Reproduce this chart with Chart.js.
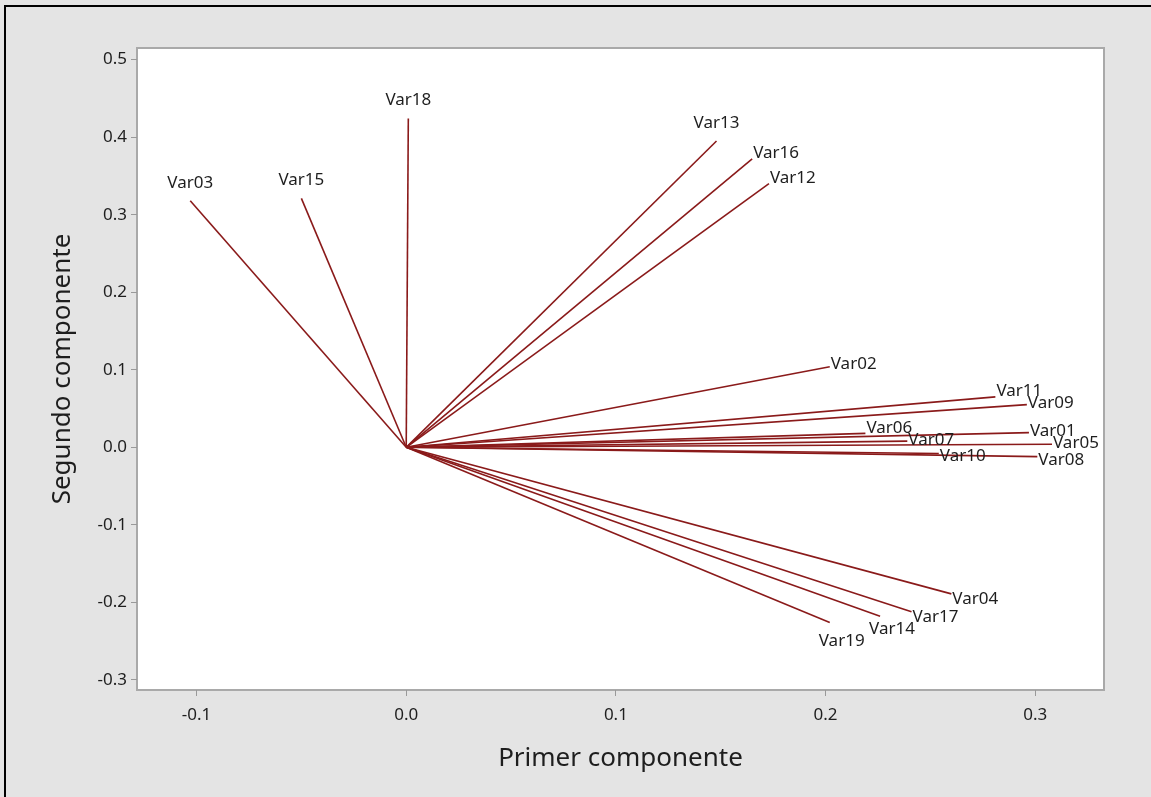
<!DOCTYPE html>
<html>
<head>
<meta charset="utf-8">
<script src="https://cdn.jsdelivr.net/npm/chart.js@4"></script>
<style>
  html, body { margin: 0; padding: 0; background: #e4e4e4; }
  canvas { display: block; }
</style>
</head>
<body>
<canvas id="biplot" width="1151" height="797"></canvas>
<script>
// Loadings
const varNames = ['Var01', 'Var02', 'Var03', 'Var04', 'Var05', 'Var06', 'Var07', 'Var08', 'Var09', 'Var10',
                  'Var11', 'Var12', 'Var13', 'Var14', 'Var15', 'Var16', 'Var17', 'Var18', 'Var19'];
const pc1 = [0.297, 0.202, -0.103, 0.260, 0.308, 0.219, 0.239, 0.301, 0.296, 0.254,
             0.281, 0.173, 0.148, 0.226, -0.050, 0.165, 0.241, 0.001, 0.202];
const pc2 = [0.019, 0.104, 0.318, -0.189, 0.004, 0.018, 0.008, -0.012, 0.055, -0.008,
             0.065, 0.340, 0.395, -0.218, 0.321, 0.372, -0.212, 0.424, -0.226];
const xTicks = [-0.1, 0.0, 0.1, 0.2, 0.3];
const yTicks = [-0.3, -0.2, -0.1, 0.0, 0.1, 0.2, 0.3, 0.4, 0.5];

const lineColor = '#8a1a1a';
const textColor = '#1e1e1e';
Chart.defaults.font.family = '"Noto Sans", "Open Sans", sans-serif';

// Grey page, black edge, white plot box
const frame = {
  id: 'frame',
  beforeDraw(chart) {
    const { ctx, chartArea: a, width, height } = chart;
    ctx.save();
    ctx.fillStyle = '#e4e4e4';
    ctx.fillRect(0, 0, width, height);
    ctx.fillStyle = '#000';
    ctx.fillRect(4, 5, width - 4, 2);
    ctx.fillRect(4, 5, 2, height - 5);
    ctx.fillStyle = '#fff';
    ctx.fillRect(a.left, a.top, a.right - a.left, a.bottom - a.top);
    ctx.strokeStyle = '#a9a9a9';
    ctx.lineWidth = 2;
    ctx.strokeRect(a.left, a.top, a.right - a.left, a.bottom - a.top);
    ctx.restore();
  }
};

// Names at the tips of the vectors, nudged apart when they collide
const vectorLabels = {
  id: 'vectorLabels',
  afterDatasetsDraw(chart) {
    const { ctx, scales: { x, y } } = chart;
    const ox = x.getPixelForValue(0), oy = y.getPixelForValue(0);
    ctx.save();
    ctx.font = '17px "Noto Sans", "Open Sans", sans-serif';
    ctx.fillStyle = textColor;
    ctx.textBaseline = 'middle';
    ctx.textAlign = 'left';
    const items = varNames.map((name, i) => {
      const ex = x.getPixelForValue(pc1[i]), ey = y.getPixelForValue(pc2[i]);
      const dx = ex - ox, dy = ey - oy, len = Math.hypot(dx, dy);
      const uy = dy / len;
      const w = ctx.measureText(name).width;
      const steep = dx < 0 || Math.atan2(-dy, dx) > 43 * Math.PI / 180;
      let left, cy;
      if (steep) {
        left = ex - w / 2;
        cy = ey - 18;
      } else {
        left = ex + 1;
        cy = uy < 0 ? ey + 8 * uy - 1 : ey + 8 * uy + 3;
      }
      return { name, left, cy, w, len, up: uy < 0 };
    });
    const h = 12;
    const placed = [];
    items.slice().sort((a, b) => b.len - a.len).forEach(it => {
      let moved = true, guard = 0;
      while (moved && guard++ < 20) {
        moved = false;
        for (const p of placed) {
          const xo = Math.min(it.left + it.w, p.left + p.w) - Math.max(it.left, p.left);
          if (xo > -2 && Math.abs(it.cy - p.cy) < h) {
            if (it.up) {
              it.cy = p.cy - h;
            } else {
              it.cy = p.cy + h;
              it.left -= 12;
            }
            moved = true;
          }
        }
      }
      placed.push(it);
      ctx.fillText(it.name, it.left, it.cy);
    });
    ctx.restore();
  }
};

const datasets = varNames.map((name, i) => ({
  label: name,
  data: [{ x: 0, y: 0 }, { x: pc1[i], y: pc2[i] }],
  showLine: true,
  fill: false,
  borderColor: lineColor,
  borderWidth: 1.6,
  pointRadius: 0,
  pointHoverRadius: 0
}));

const ctx = document.getElementById('biplot').getContext('2d');
const biplot = new Chart(ctx, {
  type: 'scatter',
  data: { datasets: datasets },
  options: {
    responsive: false,
    animation: false,
    layout: { padding: { left: 0, top: 48, right: 47, bottom: 0 } },
    scales: {
      x: {
        type: 'linear',
        min: -0.1284,
        max: 0.3328,
        afterBuildTicks: s => { s.ticks = xTicks.map(v => ({ value: v })); },
        afterFit: s => { s.height = 107; },
        ticks: {
          callback: v => v.toFixed(1),
          color: textColor,
          font: { size: 17 },
          padding: 9,
          maxRotation: 0
        },
        grid: { drawOnChartArea: false, tickLength: 6, color: '#999' },
        border: { display: false },
        title: {
          display: true,
          text: 'Primer componente',
          color: textColor,
          font: { size: 26 },
          padding: { top: 0, bottom: 23 }
        }
      },
      y: {
        type: 'linear',
        min: -0.313,
        max: 0.515,
        afterBuildTicks: s => { s.ticks = yTicks.map(v => ({ value: v })); },
        afterFit: s => { s.width = 137; },
        ticks: {
          callback: v => v.toFixed(1),
          color: textColor,
          font: { size: 17 },
          padding: 4
        },
        grid: { drawOnChartArea: false, tickLength: 6, color: '#999' },
        border: { display: false },
        title: {
          display: true,
          text: 'Segundo componente',
          color: textColor,
          font: { size: 26 },
          padding: { top: 47, bottom: 0 }
        }
      }
    },
    plugins: {
      legend: { display: false },
      tooltip: { enabled: false }
    }
  },
  plugins: [frame, vectorLabels]
});
</script>
</body>
</html>
